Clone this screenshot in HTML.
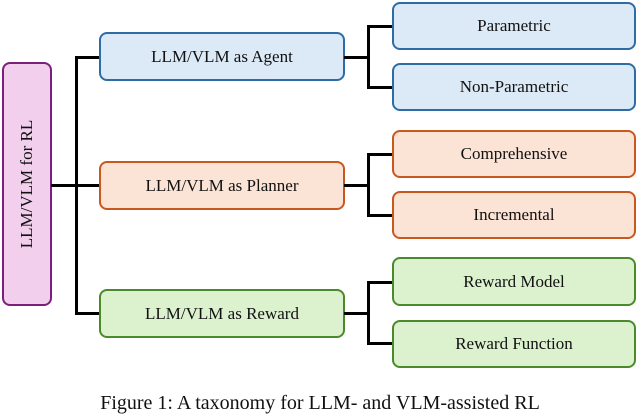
<!DOCTYPE html>
<html><head><style>
body{margin:0;width:640px;height:403px;background:#fff;overflow:hidden;position:relative;font-family:"Liberation Serif",serif;}
.b{position:absolute;box-sizing:border-box;border:2.5px solid;border-radius:8px;display:flex;align-items:center;justify-content:center;font-size:17px;color:#111;}
.a{border-color:#2e6ca6;background:#dce9f6}
.p{border-color:#c9581f;background:#fbe3d5}
.r{border-color:#4b8a2c;background:#dcf2cf}
.l{position:absolute;background:#000}
</style></head><body>
<div class="b" style="left:2px;top:62px;width:50px;height:244px;border-color:#7b1f7b;background:#f1cfed;"><div style="transform:rotate(-90deg);white-space:nowrap;font-size:17px">LLM/VLM for RL</div></div>
<div class="l" style="left:51px;top:184px;width:26px;height:3px"></div>
<div class="l" style="left:75px;top:56px;width:3px;height:259px"></div>
<div class="l" style="left:75px;top:56px;width:25px;height:3px"></div>
<div class="l" style="left:75px;top:184px;width:25px;height:3px"></div>
<div class="l" style="left:75px;top:312px;width:25px;height:3px"></div>

<div class="b a" style="left:99px;top:32px;width:246px;height:49px">LLM/VLM as Agent</div>
<div class="b p" style="left:99px;top:161px;width:246px;height:49px">LLM/VLM as Planner</div>
<div class="b r" style="left:99px;top:289px;width:246px;height:49px">LLM/VLM as Reward</div>

<div class="l" style="left:344px;top:56px;width:25px;height:3px"></div>
<div class="l" style="left:367px;top:25px;width:3px;height:63px"></div>
<div class="l" style="left:367px;top:25px;width:26px;height:3px"></div>
<div class="l" style="left:367px;top:86px;width:26px;height:3px"></div>

<div class="l" style="left:344px;top:184px;width:25px;height:3px"></div>
<div class="l" style="left:367px;top:153px;width:3px;height:63px"></div>
<div class="l" style="left:367px;top:153px;width:26px;height:3px"></div>
<div class="l" style="left:367px;top:214px;width:26px;height:3px"></div>

<div class="l" style="left:344px;top:312px;width:25px;height:3px"></div>
<div class="l" style="left:367px;top:281px;width:3px;height:63px"></div>
<div class="l" style="left:367px;top:281px;width:26px;height:3px"></div>
<div class="l" style="left:367px;top:342px;width:26px;height:3px"></div>

<div class="b a" style="left:392px;top:2px;width:244px;height:48px">Parametric</div>
<div class="b a" style="left:392px;top:63px;width:244px;height:48px">Non-Parametric</div>
<div class="b p" style="left:392px;top:130px;width:244px;height:48px">Comprehensive</div>
<div class="b p" style="left:392px;top:191px;width:244px;height:48px">Incremental</div>
<div class="b r" style="left:392px;top:257px;width:244px;height:49px">Reward Model</div>
<div class="b r" style="left:392px;top:320px;width:244px;height:48px">Reward Function</div>

<div style="position:absolute;left:0;width:640px;top:392px;text-align:center;font-size:20px;line-height:22px;color:#111;white-space:nowrap">Figure 1: A taxonomy for LLM- and VLM-assisted RL</div>
</body></html>
